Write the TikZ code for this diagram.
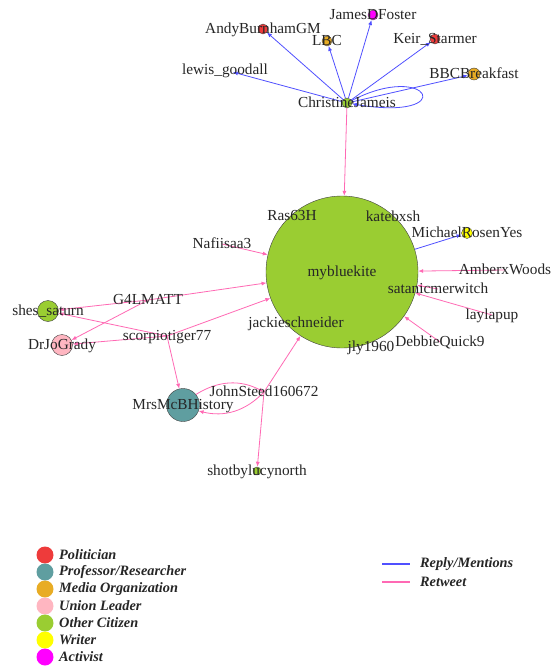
\documentclass[tikz,border=0pt]{standalone}
\usepackage{fontspec}
\setmainfont{Liberation Serif}
\usetikzlibrary{arrows.meta}
\definecolor{politician}{RGB}{238,59,59}
\definecolor{professor}{RGB}{95,158,160}
\definecolor{media}{RGB}{232,172,36}
\definecolor{union}{RGB}{255,182,193}
\definecolor{citizen}{RGB}{154,205,50}
\definecolor{writer}{RGB}{255,255,0}
\definecolor{activist}{RGB}{255,0,255}
\definecolor{replyblue}{RGB}{80,80,255}
\definecolor{rtpink}{RGB}{255,105,180}
\newcommand{\lblfont}{\fontsize{15.3}{17}\selectfont}
\newcommand{\legfont}{\fontsize{14.3}{16}\selectfont\bfseries\itshape}
\begin{document}
\begin{tikzpicture}[x=1pt,y=-1pt,
    vtx/.style={circle,draw=black!75,line width=0.4pt,inner sep=0pt,minimum size=#1},
    hid/.style={circle,inner sep=0pt,minimum size=#1},
    lbl/.style={font=\lblfont,text=black!85,inner sep=0pt,text height=0.68em,text depth=0.2em,yshift=-2.5pt},
    reply/.style={draw=replyblue,line width=0.8pt,-{Latex[length=5pt,width=4pt]}},
    rt/.style={draw=rtpink,line width=0.8pt,-{Latex[length=5pt,width=4pt]}},
    legdot/.style={circle,inner sep=0pt,minimum size=17pt},
    legtxt/.style={font=\legfont,text=black!85,anchor=west,inner sep=0pt}]
\path[fill=white,use as bounding box] (0,0) rectangle (554,666);
% vertices
\node[vtx=152pt,fill=citizen] (kite) at (342,272) {};
\node[vtx=10pt,fill=citizen] (christine) at (347,103) {};
\node[vtx=10pt,fill=politician] (andy) at (263,29) {};
\node[vtx=10pt,fill=activist] (james) at (373,15) {};
\node[vtx=10pt,fill=media] (lbc) at (327,41) {};
\node[vtx=10pt,fill=politician] (keir) at (435,39) {};
\node[hid=16pt] (lewis) at (225,70) {};
\node[vtx=12pt,fill=media] (bbc) at (474,74) {};
\node[vtx=11pt,fill=writer] (michael) at (467,233) {};
\node[hid=0pt] (ras) at (292,216) {};
\node[hid=0pt] (kate) at (393,217) {};
\node[hid=0pt] (nafi) at (222,244) {};
\node[hid=0pt] (amber) at (505,270) {};
\node[hid=0pt] (satanic) at (438,289) {};
\node[hid=0pt] (layla) at (492,315) {};
\node[hid=0pt] (debbie) at (440,342) {};
\node[hid=0pt] (jly) at (371,347) {};
\node[hid=0pt] (jackie) at (296,323) {};
\node[hid=0pt] (gmatt) at (148,300) {};
\node[hid=0pt] (scorpio) at (167,336) {};
\node[vtx=21pt,fill=citizen] (shes) at (48,311) {};
\node[vtx=21pt,fill=union] (drjo) at (62,345) {};
\node[vtx=33pt,fill=professor] (mcb) at (183,405) {};
\node[hid=0pt] (johnsteed) at (264,392) {};
\node[vtx=8pt,fill=citizen] (lucy) at (257,471) {};
% reply / mentions
\foreach \t in {andy,james,lbc,keir,lewis,bbc}
  \draw[reply] (christine) -- (\t);
\draw[reply] (christine) .. controls (430,60) and (460,122) .. (christine);
\draw[reply] (kite) -- (michael);
% retweets
\draw[rt] (christine) -- (kite);
\foreach \s in {nafi,amber,satanic,layla,debbie,gmatt,scorpio,johnsteed}
  \draw[rt] (\s) -- (kite);
\draw[rt] (gmatt) -- (shes);
\draw[rt] (gmatt) -- (drjo);
\draw[rt] (scorpio) -- (shes);
\draw[rt] (scorpio) -- (drjo);
\draw[rt] (scorpio) -- (mcb);
\draw[rt] (johnsteed) -- (lucy);
\draw[rt] (johnsteed) to[bend left=30] (mcb);
\draw[rt] (mcb) to[bend left=30] (johnsteed);
% labels
\foreach \v/\t in {kite/mybluekite,christine/ChristineJameis,andy/AndyBurnhamGM,
    james/JamesDFoster,lbc/LBC,keir/Keir\_Starmer,lewis/lewis\_goodall,
    bbc/BBCBreakfast,michael/MichaelRosenYes,ras/Ras63H,kate/katebxsh,
    nafi/Nafiisaa3,amber/AmberxWoods,satanic/satanicmerwitch,layla/laylapup,
    debbie/DebbieQuick9,jly/jly1960,jackie/jackieschneider,gmatt/G4LMATT,
    scorpio/scorpiotiger77,shes/shes\_saturn,drjo/DrJoGrady,mcb/MrsMcBHistory,
    johnsteed/JohnSteed160672,lucy/shotbylucynorth}
  \node[lbl] (\v-l) at (\v) {\t};
% legend
\foreach \c/\t [count=\i] in {politician/Politician,professor/{Professor/Researcher},
    media/Media Organization,union/Union Leader,citizen/Other Citizen,
    writer/Writer,activist/Activist}{
  \node[legdot,fill=\c] (dot\i) at (45,538+17*\i) {};
  \node[legtxt] (key\i) at (59,538+17*\i) {\t};
}
\draw[replyblue,line width=1.5pt] (382,564) -- (410,564);
\draw[rtpink,line width=1.5pt] (382,582) -- (410,582);
\node[legtxt] (replykey) at (420,564) {Reply/Mentions};
\node[legtxt] (rtkey) at (420,582) {Retweet};
\end{tikzpicture}
\end{document}
